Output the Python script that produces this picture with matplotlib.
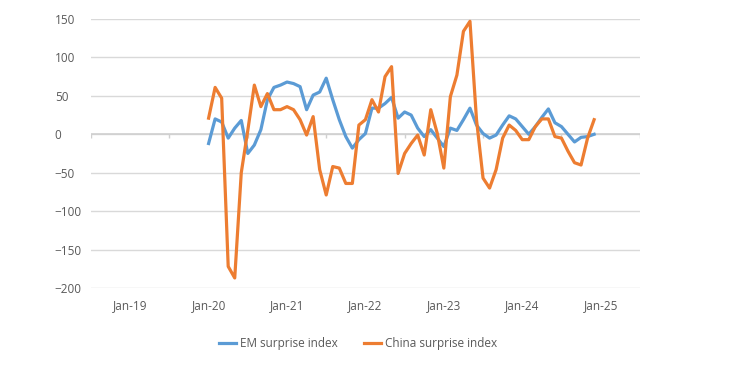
import matplotlib.pyplot as plt
import numpy as np

plt.rcParams['font.family'] = ['Open Sans', 'DejaVu Sans']

# monthly data, Jan-20 .. Dec-24
em_surprise = [-12, 20, 16, -5, 8, 18, -25, -14, 6, 45, 61, 64,
               68, 66, 62, 32, 51, 55, 73, 45, 19, -3, -18, -7,
               1, 34, 34, 40, 48, 21, 29, 25, 8, -3, 6, -5,
               -16, 8, 5, 19, 34, 12, 1, -5, -1, 12, 24, 20,
               10, 0, 10, 22, 33, 15, 10, 0, -10, -4, -3, 0]
china_surprise = [21, 61, 47, -172, -187, -50, 5, 64, 36, 53, 32, 32,
                  36, 32, 19, -1, 23, -46, -79, -42, -44, -64, -64, 12,
                  19, 45, 29, 75, 88, -51, -25, -12, -1, -27, 32, 1,
                  -44, 49, 77, 134, 147, 19, -57, -70, -46, -5, 12, 5,
                  -7, -7, 10, 20, 20, -3, -5, -22, -37, -40, -5, 19]
year_labels = ['Jan-19', 'Jan-20', 'Jan-21', 'Jan-22', 'Jan-23', 'Jan-24', 'Jan-25']
first_month = 12  # Jan-20, counted in months from Jan-19

months = np.arange(len(em_surprise)) + first_month
label_pos = np.arange(len(year_labels)) * 12
bounds = np.append(label_pos - 6, label_pos[-1] + 6)

fig = plt.figure(figsize=(7.55, 3.73), dpi=100)
ax = fig.add_axes([0.1205, 0.228, 0.727, 0.721])

ax.plot(months, em_surprise, color='#5B9BD5', lw=2.3, label='EM surprise index', zorder=3)
ax.plot(months, china_surprise, color='#ED7D31', lw=2.3, label='China surprise index', zorder=3)

ax.set_xlim(bounds[0], bounds[-1])
ax.set_ylim(-200, 150)
ax.set_yticks(np.arange(-200, 151, 50))
ax.set_xticks(label_pos)
ax.set_xticklabels(year_labels)
ax.grid(axis='y', color='#d9d9d9', lw=1)
ax.set_axisbelow(True)
for s in ax.spines.values():
    s.set_visible(False)

# horizontal axis line at zero with small tick marks
ax.axhline(0, color='#d0d0d0', lw=1.2, zorder=1)
ax.vlines(bounds, 0, -5, color='#d0d0d0', lw=1, zorder=1)

ax.tick_params(axis='x', length=0, pad=8, labelsize=8.5, labelcolor='#595959')
ax.tick_params(axis='y', length=0, pad=26, labelsize=8.5, labelcolor='#595959')
for t in ax.get_yticklabels():
    t.set_horizontalalignment('left')

fig.legend(loc='center', bbox_to_anchor=(0.474, 0.08), ncol=2, frameon=False,
           fontsize=8.5, labelcolor='#595959', handlelength=1.5, handletextpad=0.3,
           columnspacing=2.2)

plt.savefig('out.png', dpi=100)
